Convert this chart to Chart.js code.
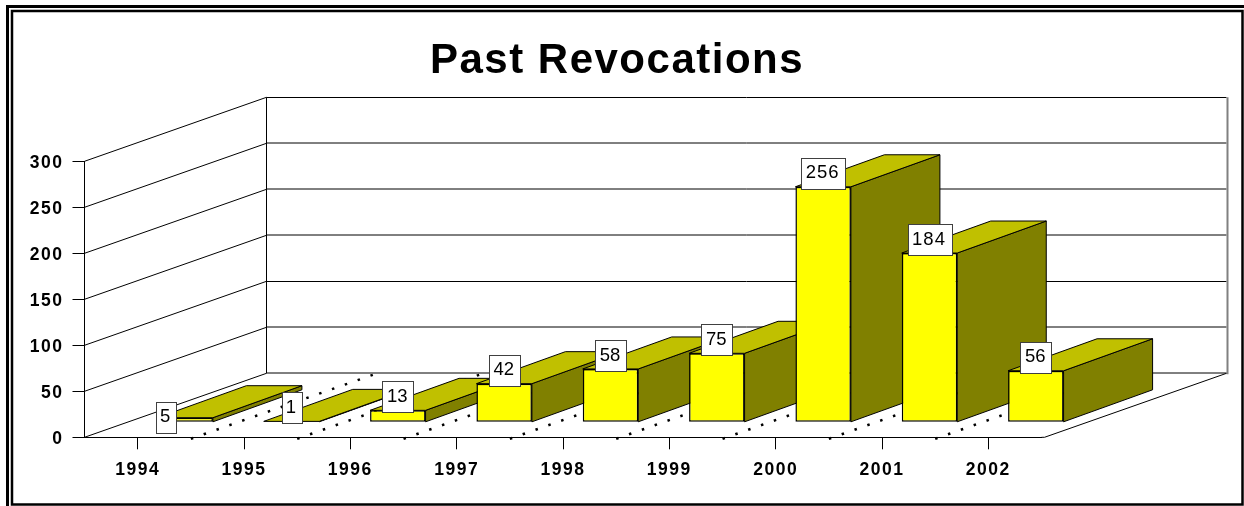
<!DOCTYPE html>
<html>
<head>
<meta charset="utf-8">
<title>Past Revocations</title>
<style>
  body { margin: 0; background: #fff; }
  canvas { display: block; }
</style>
<script src="https://cdn.jsdelivr.net/npm/chart.js@4/dist/chart.umd.min.js"></script>
</head>
<body>
<canvas id="revocationsChart" width="1244" height="506"></canvas>
<script>
const years = ['1994', '1995', '1996', '1997', '1998', '1999', '2000', '2001', '2002'];
const revocations = [5, 1, 13, 42, 58, 75, 256, 184, 56];
const yTicks = [0, 50, 100, 150, 200, 250, 300];

// 3d look: how far the floor goes back, where bars sit on it, how deep they are
const FLOOR_DX = 182, FLOOR_DY = -64;
const BAR_DX = 47.5, BAR_DY = -15;
const DEPTH_DX = 89, DEPTH_DY = -32;
const LABEL_LIFT = 13.5;
const SPACING = '1.5px';

function line(ctx, x1, y1, x2, y2) {
  ctx.beginPath();
  ctx.moveTo(x1, y1);
  ctx.lineTo(x2, y2);
  ctx.stroke();
}

function poly(ctx, pts, fill) {
  ctx.beginPath();
  pts.forEach((p, i) => i ? ctx.lineTo(p[0], p[1]) : ctx.moveTo(p[0], p[1]));
  ctx.closePath();
  ctx.fillStyle = fill;
  ctx.fill();
  ctx.stroke();
}

function drawWalls(chart) {
  const ctx = chart.ctx, area = chart.chartArea, yScale = chart.scales.y;
  const left = area.left, right = area.right + 3;
  const backLeft = left + FLOOR_DX, backRight = right + FLOOR_DX;

  ctx.strokeStyle = '#000';
  ctx.lineWidth = 1;

  yTicks.forEach(v => {
    const y = yScale.getPixelForValue(v);
    line(ctx, left, y, backLeft, y + FLOOR_DY);
    // the scanned original has some crisp black rules and some blurred grey ones
    const backY = (v === 100 || v === 300) ? Math.floor(y + FLOOR_DY) + 0.5 : Math.round(y + FLOOR_DY);
    line(ctx, backLeft, backY, backRight, backY);
  });

  line(ctx, backLeft, yScale.getPixelForValue(300) + FLOOR_DY, backLeft, area.bottom + FLOOR_DY);

  ctx.strokeStyle = '#808080';
  ctx.lineWidth = 2;
  line(ctx, backRight + 1, yScale.getPixelForValue(300) + FLOOR_DY, backRight + 1, area.bottom + FLOOR_DY + 1);

  ctx.strokeStyle = '#000';
  ctx.lineWidth = 1;
  line(ctx, right, area.bottom, right + FLOOR_DX, area.bottom + FLOOR_DY);
  line(ctx, area.right, area.bottom, right, area.bottom);

  // dotted floor lines between the categories
  const band = (area.right - area.left) / years.length;
  ctx.save();
  ctx.lineWidth = 2.5;
  ctx.setLineDash([2.5, 11.1]);
  for (let i = 1; i < years.length; i++) {
    const x = left + band * i;
    line(ctx, x, area.bottom + 1.5, x + FLOOR_DX, area.bottom + FLOOR_DY + 1.5);
  }
  ctx.restore();
}

function drawBarSides(chart) {
  const ctx = chart.ctx;
  ctx.strokeStyle = '#000';
  ctx.lineWidth = 1;
  chart.getDatasetMeta(0).data.forEach(bar => {
    const l = bar.x - bar.width / 2 + BAR_DX, r = bar.x + bar.width / 2 + BAR_DX;
    const top = bar.y + BAR_DY, base = bar.base + BAR_DY;
    poly(ctx, [[r, top], [r + DEPTH_DX, top + DEPTH_DY], [r + DEPTH_DX, base + DEPTH_DY], [r, base]], '#808000');
    poly(ctx, [[l, top], [l + DEPTH_DX, top + DEPTH_DY], [r + DEPTH_DX, top + DEPTH_DY], [r, top]], '#c0c000');
  });
}

function drawValueLabels(chart) {
  const ctx = chart.ctx;
  ctx.save();
  ctx.font = '18.5px "Liberation Sans"';
  ctx.textAlign = 'center';
  ctx.textBaseline = 'middle';
  chart.getDatasetMeta(0).data.forEach((bar, i) => {
    const text = String(revocations[i]);
    ctx.letterSpacing = text.length > 2 ? '1px' : '0px';
    let cx = bar.x + BAR_DX, cy = bar.y + BAR_DY - LABEL_LIFT;
    // the first label was dragged down and left of its bar in the original
    if (i === 0) { cx -= 19.5; cy += 13; }
    const w = Math.round(ctx.measureText(text).width + 10), h = 31;
    const bx = Math.round(cx - w / 2) + 0.5, by = Math.round(cy - h / 2) + 0.5;
    ctx.fillStyle = '#fff';
    ctx.fillRect(bx, by, w, h);
    ctx.strokeStyle = '#404040';
    ctx.lineWidth = 1;
    ctx.strokeRect(bx, by, w, h);
    ctx.fillStyle = '#000';
    ctx.fillText(text, cx - 0.5, cy);
  });
  ctx.restore();
}

const bars3d = {
  id: 'bars3d',
  afterLayout(chart) {
    // title sits a little left of the canvas centre
    chart.titleBlock.left = 0;
    chart.titleBlock.right = 1234;
  },
  beforeDraw(chart) {
    const ctx = chart.ctx;
    ctx.fillStyle = '#fff';
    ctx.fillRect(0, 0, chart.width, chart.height);
    ctx.letterSpacing = SPACING;
    // double frame, the outer one runs off the right and bottom edges
    ctx.strokeStyle = '#000';
    ctx.lineWidth = 3;
    ctx.strokeRect(7.5, 6.5, 1300, 600);
    ctx.lineWidth = 2.5;
    ctx.strokeRect(12, 11, 1230.5, 493.5);
    drawWalls(chart);
  },
  beforeDatasetsDraw(chart) {
    drawBarSides(chart);
    chart.ctx.save();
    chart.ctx.translate(BAR_DX, BAR_DY);
  },
  afterDatasetsDraw(chart) {
    chart.ctx.restore();
    drawValueLabels(chart);
  }
};

new Chart(document.getElementById('revocationsChart'), {
  type: 'bar',
  data: {
    labels: years,
    datasets: [{
      data: revocations,
      backgroundColor: '#ffff00',
      borderColor: '#000',
      borderWidth: 1.5,
      borderSkipped: false,
      barPercentage: 0.522,
      categoryPercentage: 1
    }]
  },
  plugins: [bars3d],
  options: {
    responsive: false,
    animation: false,
    events: [],
    layout: { padding: { left: 0, right: 202.5, top: 0, bottom: 0 } },
    plugins: {
      legend: { display: false },
      tooltip: { enabled: false },
      title: {
        display: true,
        text: 'Past Revocations',
        color: '#000',
        font: { family: '"Liberation Sans"', size: 42, weight: 'bold', lineHeight: 1.2 },
        padding: { top: 36, bottom: 74.9 }
      }
    },
    scales: {
      x: {
        afterFit(scale) { scale.height = 68.7; },
        grid: { offset: false, drawOnChartArea: false, tickLength: 12, color: '#000' },
        border: { color: '#000' },
        ticks: {
          color: '#000',
          maxRotation: 0,
          padding: 10,
          font: { family: '"Liberation Sans"', size: 17.5, weight: 'bold' }
        }
      },
      y: {
        min: 0,
        max: 300,
        afterFit(scale) { scale.width = 84.5; },
        afterBuildTicks(scale) { scale.ticks = yTicks.map(v => ({ value: v })); },
        grid: { drawOnChartArea: false, tickLength: 12, color: '#000' },
        border: { color: '#000' },
        ticks: {
          color: '#000',
          padding: 9,
          labelOffset: 2,
          font: { family: '"Liberation Sans"', size: 17.5, weight: 'bold' }
        }
      }
    }
  }
});
</script>
</body>
</html>
